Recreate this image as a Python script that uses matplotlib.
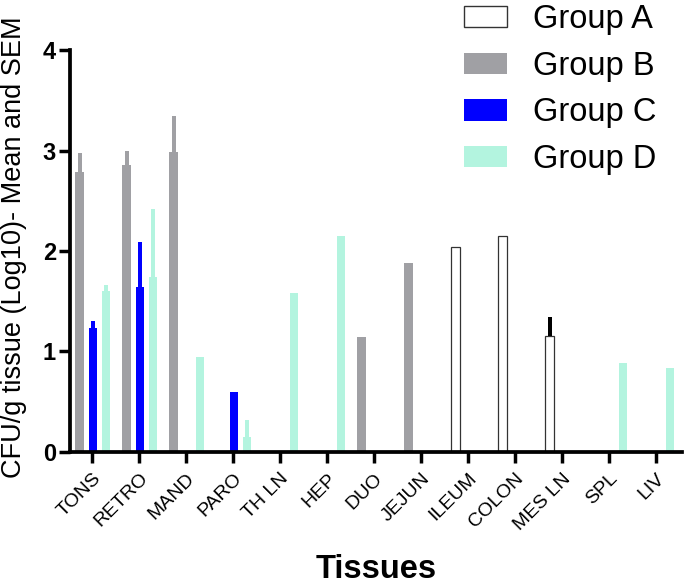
import numpy as np
import matplotlib
matplotlib.use('Agg')
import matplotlib.pyplot as plt
from matplotlib.patches import Patch

plt.rcParams['font.family'] = ['Liberation Sans', 'DejaVu Sans']

# data (0 = no bar)
tissues = ['TONS', 'RETRO', 'MAND', 'PARO', 'TH LN', 'HEP', 'DUO',
           'JEJUN', 'ILEUM', 'COLON', 'MES LN', 'SPL', 'LIV']
grp_a = [0, 0, 0, 0, 0, 0, 0, 0, 2.04, 2.15, 1.15, 0, 0]
sem_a = [0, 0, 0, 0, 0, 0, 0, 0, 0, 0, 0.19, 0, 0]
grp_b = [2.79, 2.86, 2.99, 0, 0, 0, 1.14, 1.88, 0, 0, 0, 0, 0]
sem_b = [0.19, 0.14, 0.35, 0, 0, 0, 0, 0, 0, 0, 0, 0, 0]
grp_c = [1.23, 1.64, 0, 0.6, 0, 0, 0, 0, 0, 0, 0, 0, 0]
sem_c = [0.07, 0.45, 0, 0, 0, 0, 0, 0, 0, 0, 0, 0, 0]
grp_d = [1.60, 1.74, 0.95, 0.15, 1.58, 2.15, 0, 0, 0, 0, 0, 0.89, 0.84]
sem_d = [0.06, 0.68, 0, 0.17, 0, 0, 0, 0, 0, 0, 0, 0, 0]

col_a = 'white'
col_b = '#a0a0a4'
col_c = '#0000ff'
col_d = '#b3f4df'

x = np.arange(len(tissues))
w = 0.18
step = 0.265
ew = 0.085

fig = plt.figure(figsize=(6.85, 5.85), dpi=100)
ax = fig.add_axes([0.102, 0.2274, 0.893, 0.687])

def draw(vals, sems, off, color, ecol, edge=None):
    vals = np.array(vals)
    sems = np.array(sems)
    m = vals > 0
    ax.bar(x[m] + off, vals[m], w, color=color,
           edgecolor=edge if edge else color, linewidth=0.9 if edge else 0)
    s = sems > 0
    ax.bar(x[s] + off, sems[s], ew, bottom=vals[s], color=ecol, linewidth=0)

draw(grp_a, sem_a, -step, col_a, 'black', edge='#333333')
draw(grp_b, sem_b, -step, col_b, col_b)
draw(grp_c, sem_c, 0.02, col_c, col_c)
draw(grp_d, sem_d, step + 0.03, col_d, col_d)

ax.set_xlim(-0.474, 12.54)
ax.set_ylim(0, 4)
ax.set_yticks([0, 1, 2, 3, 4])
ax.set_yticklabels(['0', '1', '2', '3', '4'], fontsize=17, fontweight='bold')
ax.set_xticks(x)
ax.set_xticklabels(tissues, rotation=45, ha='right', va='top',
                   rotation_mode='anchor', fontsize=14)
ax.tick_params(axis='both', width=2.5, length=8, direction='out')
ax.tick_params(axis='y', pad=2)
ax.tick_params(axis='x', pad=5)
for s in ['top', 'right']:
    ax.spines[s].set_visible(False)
for s in ['left', 'bottom']:
    ax.spines[s].set_linewidth(2.7)

ax.set_ylabel('CFU/g tissue (Log10)- Mean and SEM', fontsize=19.5)
ax.yaxis.set_label_coords(-0.07, 0.51)
ax.set_xlabel('Tissues', fontsize=23.5, fontweight='bold')
ax.xaxis.set_label_coords(0.5, -0.255)

handles = [Patch(facecolor=col_a, edgecolor='#333333', linewidth=1),
           Patch(facecolor=col_b), Patch(facecolor=col_c), Patch(facecolor=col_d)]
fig.legend(handles, ['Group A', 'Group B', 'Group C', 'Group D'],
           loc='upper left', bbox_to_anchor=(464 / 685, 0.993), frameon=False,
           borderpad=0, borderaxespad=0,
           fontsize=23.5, handlelength=1.32, handleheight=0.64,
           labelspacing=0.48, handletextpad=0.8)

fig.savefig('out.png', dpi=100)
